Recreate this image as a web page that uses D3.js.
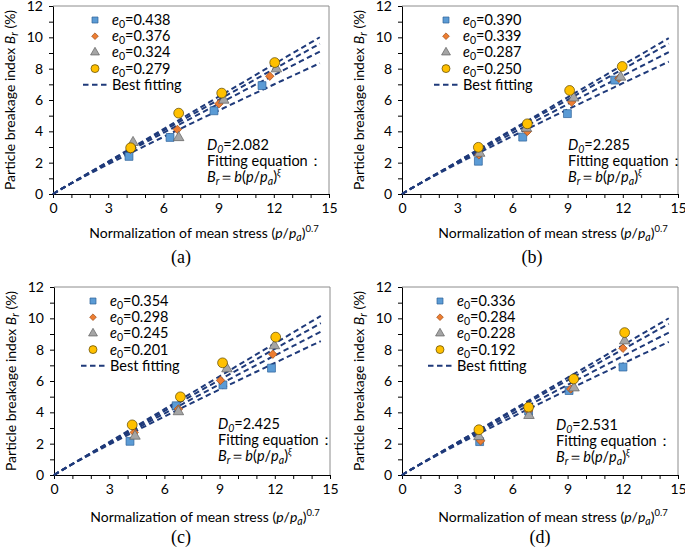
<!DOCTYPE html>
<html>
<head>
<meta charset="utf-8">
<title>Particle breakage index</title>
<script src="https://cdnjs.cloudflare.com/ajax/libs/d3/7.8.5/d3.min.js"></script>
<style>
body { margin: 0; background: #fff; }
svg text { font-family: Lato, "Open Sans", sans-serif; fill: #000; }
.axis path, .axis line { stroke: #000; }
.axis text { font-size: 14px; font-family: Lato, "Open Sans", sans-serif; }
text.caption { font-family: "Liberation Serif", "DejaVu Serif", serif; font-size: 18px; }
</style>
</head>
<body>
<svg id="chart" width="685" height="554"></svg>
<script>
var panelNames = ['(a)', '(b)', '(c)', '(d)'];
var voidRatios = [
  ['0.438', '0.376', '0.324', '0.279'],
  ['0.390', '0.339', '0.287', '0.250'],
  ['0.354', '0.298', '0.245', '0.201'],
  ['0.336', '0.284', '0.228', '0.192']
];
var fractalDims = ['2.082', '2.285', '2.425', '2.531'];

// normalized mean stress (x) and breakage index (y), one row per e0 series
var stressA = [[4.13, 6.36, 8.75, 11.36], [4.20, 6.76, 9.02, 11.78], [4.35, 6.83, 9.28, 12.14], [4.22, 6.83, 9.17, 12.05]];
var breakA  = [[2.40, 3.61, 5.31, 6.92], [2.85, 4.12, 5.76, 7.52], [3.29, 3.60, 5.99, 7.99], [2.95, 5.16, 6.44, 8.39]];
var stressB = [[4.15, 6.56, 8.99, 11.56], [4.18, 6.81, 9.22, 11.79], [4.22, 6.76, 9.33, 11.88], [4.15, 6.81, 9.11, 11.97]];
var breakB  = [[2.09, 3.63, 5.13, 7.27], [2.50, 3.99, 5.87, 7.39], [2.60, 4.20, 6.13, 7.46], [2.98, 4.48, 6.61, 8.14]];
var stressC = [[4.13, 6.64, 9.18, 11.82], [4.36, 6.76, 9.05, 11.89], [4.40, 6.76, 9.40, 11.98], [4.25, 6.87, 9.16, 12.05]];
var breakC  = [[2.15, 4.42, 5.75, 6.82], [2.72, 4.21, 6.04, 7.71], [2.48, 4.04, 6.78, 8.25], [3.20, 4.99, 7.16, 8.80]];
var stressD = [[4.22, 6.88, 9.08, 12.01], [4.27, 6.88, 9.17, 12.01], [4.18, 6.90, 9.35, 12.10], [4.18, 6.88, 9.33, 12.10]];
var breakD  = [[2.13, 4.08, 5.39, 6.89], [2.18, 4.10, 5.49, 8.09], [2.45, 3.80, 5.56, 8.56], [2.89, 4.33, 6.13, 9.09]];

// fitted Br = b (p/pa)^xi, one pair per series
var fitB = [
  [0.676, 0.698, 0.698, 0.690],
  [0.684, 0.695, 0.698, 0.686],
  [0.692, 0.702, 0.705, 0.700],
  [0.688, 0.698, 0.702, 0.690]
];
var fitXi = [0.94, 0.96, 0.98, 1.00];
var fitEnd = 14.5;

var xTicks = [0, 1, 2, 3, 4, 5, 6, 7, 8, 9, 10, 11, 12, 13, 14, 15];
var yTicks = [0, 1, 2, 3, 4, 5, 6, 7, 8, 9, 10, 11, 12];

var stressAll = [stressA, stressB, stressC, stressD];
var breakAll = [breakA, breakB, breakC, breakD];

var fills = ['#5b9bd5', '#ed7d31', '#a5a5a5', '#ffc000'];
var strokes = ['#2e6199', '#a04f18', '#5f5f5f', '#5a4500'];
var symbols = [d3.symbolSquare, d3.symbolSquare, d3.symbolTriangle, d3.symbolCircle];
var symSize = [62, 36, 48, 76];
var legSize = [36, 22, 34, 50];
var symRot = [0, 45, 0, 0];
var lineColor = '#1f3a7a';

// panel placement (plot area)
var panels = [
  {left: 53, top: 6, legDx: 42, noteDx: 154, noteDy: 139, capX: 181, capY: 263, xTitleY: 238},
  {left: 402, top: 6, legDx: 44, noteDx: 166, noteDy: 139, capX: 532, capY: 263, xTitleY: 238},
  {left: 54, top: 287, legDx: 39, noteDx: 164, noteDy: 137, capX: 181, capY: 543, xTitleY: 522},
  {left: 402, top: 287, legDx: 38, noteDx: 154, noteDy: 138, capX: 540, capY: 543, xTitleY: 522}
];
var pw = 276, ph = 188;

var svg = d3.select('#chart');

function drawPanel(p, k) {
  var g = svg.append('g').attr('transform', 'translate(' + p.left + ',' + p.top + ')');
  var x = d3.scaleLinear().domain([0, 15]).range([0, pw]);
  var y = d3.scaleLinear().domain([0, 12]).range([ph, 0]);

  // plot border (top/right)
  g.append('path')
    .attr('d', 'M0,0H' + pw + 'V' + ph)
    .attr('fill', 'none')
    .attr('stroke', '#8c8c8c')
    .attr('stroke-width', 1);

  var xAxis = d3.axisBottom(x).tickValues(xTicks).tickSize(4).tickSizeOuter(0).tickPadding(5)
    .tickFormat(function(d) { return d % 3 === 0 ? d : ''; });
  var yAxis = d3.axisLeft(y).tickValues(yTicks).tickSize(4).tickSizeOuter(0).tickPadding(6)
    .tickFormat(function(d) { return d % 2 === 0 ? d : ''; });
  g.append('g').attr('class', 'axis').attr('transform', 'translate(0,' + ph + ')').call(xAxis);
  g.append('g').attr('class', 'axis').call(yAxis);
  g.selectAll('.axis text').attr('fill', '#000');

  // best fitting curves
  var line = d3.line().x(function(d) { return x(d[0]); }).y(function(d) { return y(d[1]); });
  for (var s = 0; s < 4; s++) {
    var b = fitB[k][s], xi = fitXi[s];
    var pts = d3.range(0, fitEnd + 0.01, 0.5).map(function(v) { return [v, b * Math.pow(v, xi)]; });
    g.append('path')
      .attr('d', line(pts))
      .attr('fill', 'none')
      .attr('stroke', lineColor)
      .attr('stroke-width', 2)
      .attr('stroke-dasharray', '5.5,3.5');
  }

  // markers
  for (var s = 0; s < 4; s++) {
    var data = d3.zip(stressAll[k][s], breakAll[k][s]);
    g.selectAll('path.s' + s).data(data).enter().append('path')
      .attr('class', 's' + s)
      .attr('d', d3.symbol().type(symbols[s]).size(symSize[s]))
      .attr('transform', function(d) {
        return 'translate(' + x(d[0]) + ',' + y(d[1]) + ') rotate(' + symRot[s] + ')';
      })
      .attr('fill', fills[s])
      .attr('stroke', strokes[s])
      .attr('stroke-width', 0.7);
  }

  // legend
  var lg = g.append('g').attr('transform', 'translate(' + p.legDx + ',14)');
  for (var s = 0; s < 4; s++) {
    var row = lg.append('g').attr('transform', 'translate(0,' + (s * 16.2) + ')');
    row.append('path')
      .attr('d', d3.symbol().type(symbols[s]).size(legSize[s]))
      .attr('transform', 'rotate(' + symRot[s] + ')')
      .attr('fill', fills[s])
      .attr('stroke', strokes[s])
      .attr('stroke-width', 0.7);
    var t = row.append('text').attr('x', 17).attr('y', 5).attr('font-size', 14.5);
    t.append('tspan').attr('font-style', 'italic').text('e');
    t.append('tspan').attr('font-size', 10.5).attr('dy', 3).text('0');
    t.append('tspan').attr('dy', -3).text('=' + voidRatios[k][s]);
  }
  var ly = 4 * 16.2;
  lg.append('line')
    .attr('x1', -12).attr('x2', 15).attr('y1', ly).attr('y2', ly)
    .attr('stroke', lineColor).attr('stroke-width', 2).attr('stroke-dasharray', '5.5,3.5');
  lg.append('text').attr('x', 17).attr('y', ly + 5).attr('font-size', 14.5).text('Best fitting');

  // annotation
  var ng = g.append('g').attr('transform', 'translate(' + p.noteDx + ',' + p.noteDy + ')');
  var t1 = ng.append('text').attr('y', 5).attr('font-size', 14.5);
  t1.append('tspan').attr('font-style', 'italic').text('D');
  t1.append('tspan').attr('font-style', 'italic').attr('font-size', 10.5).attr('dy', 3).text('0');
  t1.append('tspan').attr('dy', -3).text('=' + fractalDims[k]);
  ng.append('text').attr('y', 21).attr('font-size', 14.5).text('Fitting equation：');
  var t3 = ng.append('text').attr('y', 37).attr('font-size', 14.5);
  t3.append('tspan').attr('font-style', 'italic').text('B');
  t3.append('tspan').attr('font-style', 'italic').attr('font-size', 10.5).attr('dy', 3).text('r');
  t3.append('tspan').attr('dy', -3).text('＝');
  t3.append('tspan').attr('font-style', 'italic').text('b');
  t3.append('tspan').text('(');
  t3.append('tspan').attr('font-style', 'italic').text('p');
  t3.append('tspan').text('/');
  t3.append('tspan').attr('font-style', 'italic').text('p');
  t3.append('tspan').attr('font-style', 'italic').attr('font-size', 10.5).attr('dy', 3).text('a');
  t3.append('tspan').attr('dy', -3).text(')');
  t3.append('tspan').attr('font-style', 'italic').attr('font-size', 10).attr('dy', -6).text('ξ');

  // axis titles
  var xt = svg.append('text')
    .attr('x', p.left + pw / 2 + 13).attr('y', p.xTitleY)
    .attr('text-anchor', 'middle').attr('font-size', 14);
  xt.append('tspan').text('Normalization of mean stress (');
  xt.append('tspan').attr('font-style', 'italic').text('p');
  xt.append('tspan').text('/');
  xt.append('tspan').attr('font-style', 'italic').text('p');
  xt.append('tspan').attr('font-style', 'italic').attr('font-size', 10.5).attr('dy', 3).text('a');
  xt.append('tspan').attr('dy', -3).text(')');
  xt.append('tspan').attr('font-size', 9.5).attr('dy', -6).text('0.7');

  var yt = svg.append('text')
    .attr('transform', 'translate(' + (p.left - 38) + ',' + (p.top + ph / 2) + ') rotate(-90)')
    .attr('text-anchor', 'middle').attr('font-size', 14);
  yt.append('tspan').text('Particle breakage index ');
  yt.append('tspan').attr('font-style', 'italic').text('B');
  yt.append('tspan').attr('font-style', 'italic').attr('font-size', 10.5).attr('dy', 3).text('r');
  yt.append('tspan').attr('dy', -3).text(' (%)');

  svg.append('text').attr('class', 'caption')
    .attr('x', p.capX).attr('y', p.capY)
    .attr('text-anchor', 'middle')
    .text(panelNames[k]);
}

panels.forEach(drawPanel);
</script>
</body>
</html>
